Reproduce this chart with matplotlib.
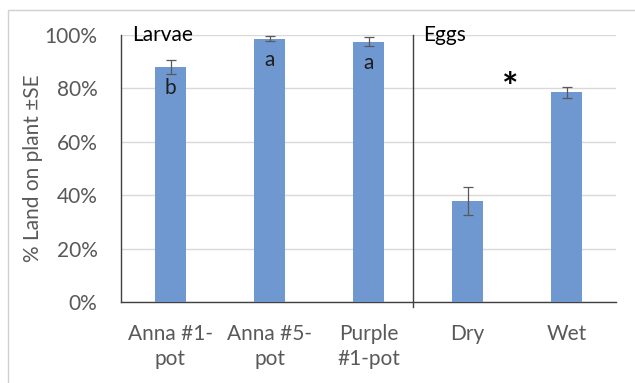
import matplotlib
matplotlib.use("Agg")
import matplotlib.pyplot as plt
from matplotlib.patches import Rectangle

categories = ["Anna #1-\npot", "Anna #5-\npot", "Purple\n#1-pot", "Dry", "Wet"]
values = [88.0, 98.6, 97.4, 37.8, 78.5]
errors = [2.6, 1.0, 1.7, 5.2, 2.1]
letters = ["b", "a", "a", None, None]
yticks = [0, 20, 40, 60, 80, 100]
ytick_labels = ["0%", "20%", "40%", "60%", "80%", "100%"]

plt.rcParams['font.family'] = ['Lato', 'DejaVu Sans']

fig = plt.figure(figsize=(6.35, 3.83), dpi=100)
W, H = 635, 383
ax = fig.add_axes([121/W, 1 - 302/H, (616-121)/W, (302-35)/H])

x = list(range(len(categories)))
ax.bar(x, values, width=0.31, color="#6f97d0", zorder=3)
ax.errorbar(x, values, yerr=errors, fmt="none", ecolor="#595959",
            elinewidth=0.9, capsize=3.5, capthick=0.9, zorder=4)

ax.set_xlim(-0.5, 4.5)
ax.set_ylim(0, 100)
ax.set_yticks(yticks)
ax.set_yticklabels(ytick_labels)
ax.set_xticks(x)
ax.set_xticklabels(categories, linespacing=1.3)
ax.tick_params(axis="both", length=0, labelsize=15, colors="#595959")
ax.tick_params(axis="y", pad=17)
ax.tick_params(axis="x", pad=16)
for lab in ax.get_xticklabels() + ax.get_yticklabels():
    lab.set_color("#595959")

ax.yaxis.grid(True, color="#d9d9d9", linewidth=1, zorder=0)
ax.set_axisbelow(True)
for s in ["top", "right"]:
    ax.spines[s].set_visible(False)
ax.spines["left"].set_color("#404040")
ax.spines["bottom"].set_color("#404040")
ax.spines["left"].set_linewidth(1)
ax.spines["bottom"].set_linewidth(1)

ax.set_ylabel("% Land on plant ±SE", fontsize=15, color="#595959", labelpad=1)

# separator line between groups
ax.plot([2.45, 2.45], [-1.9, 100], color="#404040", linewidth=1, clip_on=False, zorder=5)

for xi, v, l in zip(x, values, letters):
    if l:
        ax.text(xi, v - 8, l, ha="center", va="center", fontsize=15, color="#1f1f1f", zorder=6)

ax.text(-0.39, 100, "Larvae", ha="left", va="center", fontsize=15, color="black")
ax.text(2.55, 100, "Eggs", ha="left", va="center", fontsize=15, color="black")
ax.text(3.43, 80.0, "*", ha="center", va="center", fontsize=28, color="black", fontweight="bold")

fig.patches.append(Rectangle((8/W, -0.1), 1.2, 1 - 10/H + 0.1, transform=fig.transFigure,
                             fill=False, edgecolor="#d0d0d0", linewidth=1))

fig.savefig("out.png", dpi=100)
